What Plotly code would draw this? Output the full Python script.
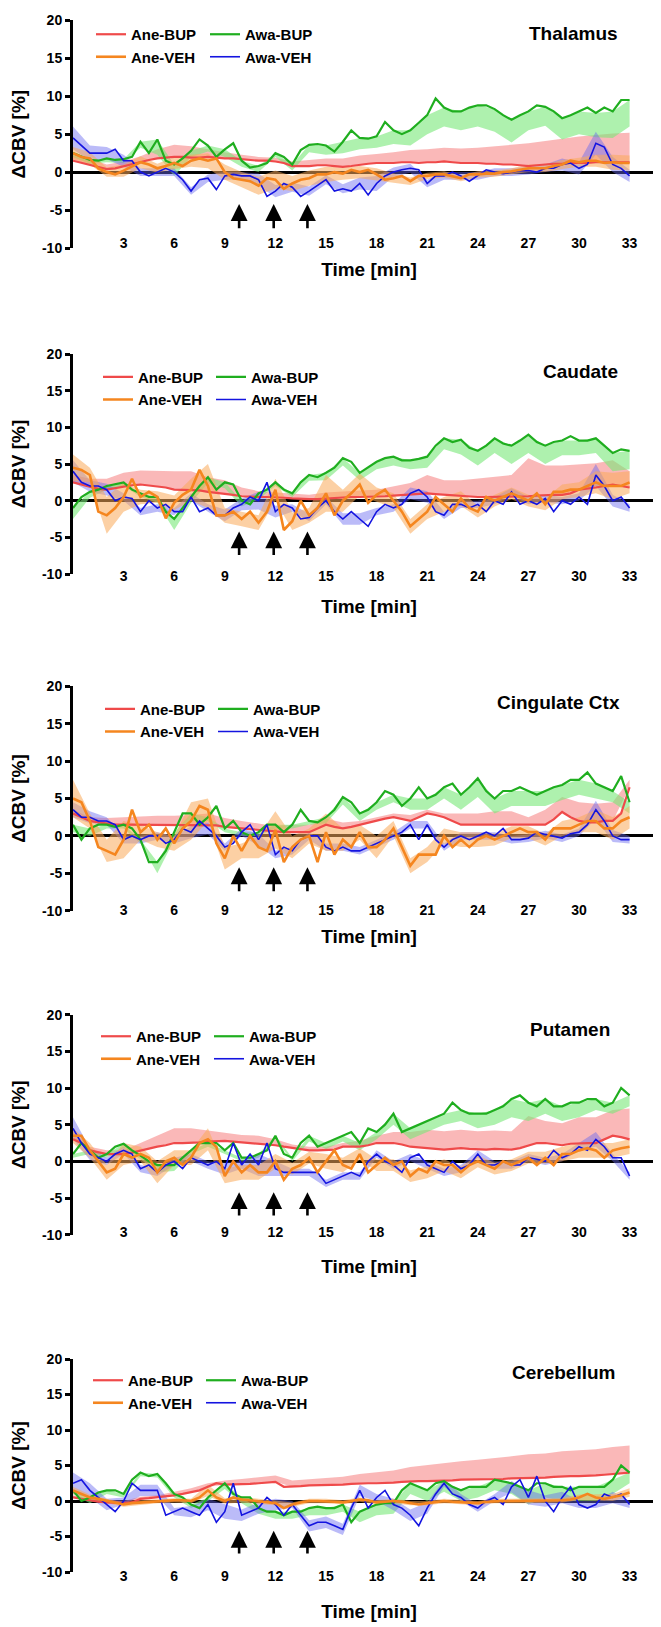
import plotly.graph_objects as go

W, H = 661, 1627

# ---------------- data ----------------
TIME_STEP = 0.5          # min, spacing of the mean traces
ERR_STEP = 1.0           # min, spacing of the error values
X_TICKS = [3, 6, 9, 12, 15, 18, 21, 24, 27, 30, 33]
Y_TICKS = [-10, -5, 0, 5, 10, 15, 20]
REGIONS = ["Thalamus", "Caudate", "Cingulate Ctx", "Putamen", "Cerebellum"]
GROUPS = ["Ane-BUP", "Ane-VEH", "Awa-BUP", "Awa-VEH"]
ARROW_TIMES = [9.85, 11.9, 13.9]

# ----- Thalamus -----
thal_ane_bup = [1.5, 1.2, 1.0, 0.6, 0.4, 0.5, 0.8, 1.0, 1.3, 1.6,
                1.8, 1.9, 2.0, 2.0, 1.9, 1.9, 2.0, 1.9, 1.8, 1.8,
                1.7, 1.6, 1.5, 1.5, 1.4, 1.2, 0.8, 0.8, 0.8, 0.9,
                0.9, 0.8, 0.7, 0.8, 1.0, 1.1, 1.2, 1.2, 1.2, 1.3,
                1.3, 1.2, 1.3, 1.3, 1.4, 1.3, 1.2, 1.2, 1.2, 1.1,
                1.1, 1.0, 1.0, 0.9, 0.8, 0.9, 1.0, 1.1, 1.1, 1.2,
                1.2, 1.2, 1.3, 1.3, 1.3, 1.3, 1.3]
thal_ane_bup_err = [0.8, 0.8, 0.6, 0.6, 0.8, 1.2, 1.6, 1.5, 1.0, 0.8,
                    0.6, 0.5, 0.5, 0.6, 0.8, 0.9, 1.1, 1.2, 1.2, 1.4,
                    1.6, 1.7, 1.8, 1.9, 2.0, 2.3, 2.6, 3.0, 3.1, 3.3,
                    3.5, 3.6, 3.8, 3.9]
thal_ane_veh = [2.5, 2.0, 1.8, 0.5, 0.0, -0.3, 0.2, 0.8, 1.3, 1.0,
                0.5, 0.8, 1.2, 0.8, 1.5, 1.8, 1.5, 1.8, 0.0, -0.8,
                -1.0, -1.2, -1.8, -0.8, -1.0, -2.2, -1.5, -1.0, -0.8, -0.3,
                -0.3, 0.0, -0.2, 0.3, 0.0, 0.3, -0.3, -1.0, -0.8, -0.5,
                -1.2, -0.5, -0.5, -0.3, -0.3, -0.5, -0.8, -0.3, -0.3, -0.2,
                -0.2, 0.0, 0.1, 0.3, 0.5, 0.5, 0.5, 0.8, 1.0, 1.5,
                1.3, 1.5, 1.5, 1.2, 1.3, 1.2, 1.2]
thal_ane_veh_err = [0.8, 0.8, 0.6, 0.8, 0.8, 0.6, 0.8, 0.8, 1.0, 1.0,
                    1.0, 1.2, 1.2, 1.0, 1.0, 1.0, 0.8, 0.8, 0.8, 0.6,
                    0.5, 0.4, 0.4, 0.4, 0.4, 0.4, 0.4, 0.5, 0.5, 0.6,
                    0.6, 0.8, 1.0, 1.0]
thal_awa_bup = [2.5, 2.0, 1.6, 1.5, 1.8, 1.6, 1.7, 2.0, 4.0, 2.5,
                4.3, 1.5, 1.0, 1.8, 2.8, 4.3, 3.5, 2.0, 3.0, 3.8,
                1.5, 0.6, 0.8, 1.2, 2.5, 2.0, 1.0, 2.9, 3.6, 3.7,
                3.5, 2.7, 4.0, 5.5, 4.5, 4.4, 4.7, 6.6, 5.5, 5.0,
                5.5, 6.5, 7.5, 9.7, 8.5, 8.0, 8.0, 8.5, 8.8, 8.8,
                8.3, 7.5, 6.9, 7.5, 8.0, 8.8, 8.6, 8.0, 7.1, 7.5,
                8.0, 8.5, 7.8, 8.5, 8.0, 9.5, 9.5]
thal_awa_bup_err = [0.5, 0.5, 0.5, 0.5, 0.8, 2.0, 1.5, 0.8, 0.8, 1.0,
                    0.8, 0.8, 0.5, 0.8, 1.0, 1.2, 1.5, 1.5, 1.5, 1.8,
                    2.0, 2.5, 2.5, 2.5, 2.8, 3.0, 3.0, 2.5, 2.5, 2.8,
                    3.0, 3.2, 3.5, 3.5]
thal_awa_veh = [4.5, 3.5, 2.5, 2.5, 2.5, 3.0, 1.5, 1.5, 0.0, -0.5,
                0.0, 0.5, 0.0, -1.0, -2.5, -1.0, -0.8, -2.3, -0.5, -0.3,
                -0.5, -0.5, -1.0, -3.2, -2.5, -1.5, -2.0, -3.2, -2.5, -1.8,
                -1.0, -2.5, -2.2, -2.5, -1.5, -3.0, -1.5, -0.5, 0.0, 0.3,
                0.5, 0.3, -1.5, -0.5, -0.5, 0.0, -0.5, -1.2, -0.5, 0.3,
                0.0, -0.2, 0.0, 0.2, 0.2, 0.0, 0.5, 0.5, 1.0, 1.2,
                0.5, 1.0, 3.8, 3.3, 1.0, 0.5, -0.5]
thal_awa_veh_err = [1.5, 1.0, 0.8, 0.8, 0.5, 0.5, 0.5, 0.5, 0.5, 0.5,
                    0.5, 0.8, 0.8, 0.6, 0.6, 0.6, 0.6, 0.8, 1.0, 0.6,
                    0.6, 0.5, 0.5, 0.5, 0.5, 0.5, 0.5, 0.5, 0.5, 0.8,
                    0.8, 1.5, 1.0, 0.8]

# ----- Caudate -----
caud_ane_bup = [2.5, 2.2, 1.8, 1.6, 1.5, 1.7, 2.0, 2.1, 2.2, 2.1,
                2.0, 1.8, 1.5, 1.5, 1.5, 1.4, 1.2, 1.1, 1.0, 0.8,
                0.6, 0.5, 0.5, 0.5, 0.5, 0.4, 0.3, 0.2, 0.2, 0.2,
                0.3, 0.4, 0.5, 0.5, 0.5, 0.5, 0.5, 0.6, 0.7, 0.8,
                0.9, 1.0, 1.0, 0.9, 0.8, 0.7, 0.6, 0.5, 0.5, 0.5,
                0.5, 0.5, 0.5, 0.5, 0.6, 0.7, 0.8, 0.8, 0.8, 1.0,
                1.5, 1.6, 1.8, 2.0, 2.2, 2.0, 1.8]
caud_ane_bup_err = [1.0, 1.2, 1.5, 1.8, 1.9, 2.0, 2.5, 2.5, 2.0, 1.8,
                    1.2, 0.8, 0.6, 0.6, 0.6, 0.8, 0.8, 0.9, 1.0, 1.3,
                    1.5, 2.5, 2.0, 2.2, 2.5, 2.7, 3.0, 5.2, 4.0, 4.0,
                    3.5, 3.3, 3.3, 2.2]
caud_ane_veh = [4.5, 4.2, 3.5, -1.5, -2.0, -1.0, 0.5, 3.0, 0.5, 1.2,
                0.5, -2.4, -0.3, 0.8, 1.5, 4.2, 2.0, -2.0, -2.0, -1.5,
                -2.5, -1.5, -3.0, -1.5, 1.5, -4.0, -2.8, 0.0, -2.0, -1.0,
                1.0, -2.0, 0.0, 1.0, 2.2, -0.3, 0.8, 1.5, 0.0, -1.5,
                -3.5, -2.5, -1.5, 0.5, -0.5, -1.5, 0.3, -1.0, -1.5, 0.5,
                0.0, 0.5, 1.0, 0.5, 0.0, 1.0, -0.5, 1.2, 1.2, 1.5,
                1.5, 2.0, 2.5, 2.0, 2.0, 2.0, 2.5]
caud_ane_veh_err = [1.8, 1.0, 2.5, 2.0, 1.0, 0.8, 1.0, 1.5, 3.0, 1.0,
                    1.0, 1.0, 1.5, 1.2, 1.0, 2.5, 1.5, 1.5, 1.0, 1.0,
                    1.0, 1.0, 1.0, 1.0, 0.8, 0.8, 0.8, 0.8, 0.8, 1.0,
                    1.0, 1.5, 1.8, 1.5]
caud_awa_bup = [-1.0, 0.5, 1.2, 1.5, 2.0, 2.3, 2.5, 1.5, 1.0, 0.5,
                0.5, -1.5, -2.5, -1.0, 0.5, 2.0, 3.2, 1.5, 2.5, 2.2,
                0.0, -0.5, 1.0, 1.5, 2.5, 1.5, 1.0, 2.5, 3.5, 3.2,
                3.8, 4.5, 5.8, 5.3, 3.8, 4.5, 5.3, 5.8, 6.0, 5.5,
                5.5, 5.7, 6.0, 7.5, 8.5, 8.0, 8.3, 7.2, 6.8, 7.5,
                8.5, 7.8, 7.5, 8.2, 9.0, 8.0, 7.5, 8.0, 8.2, 8.8,
                8.2, 8.2, 8.5, 7.5, 6.5, 7.0, 6.8]
caud_awa_bup_err = [1.5, 0.8, 0.5, 0.5, 0.5, 0.8, 1.5, 0.8, 0.8, 0.8,
                    0.8, 0.8, 0.5, 0.5, 0.8, 1.0, 1.0, 1.0, 1.0, 1.2,
                    1.2, 1.5, 1.5, 2.0, 2.0, 2.0, 2.5, 2.5, 2.5, 2.0,
                    2.0, 2.0, 2.5, 2.5]
caud_awa_veh = [4.0, 2.5, 2.0, 2.0, 1.5, 0.0, 0.5, 0.3, -1.5, 0.0,
                -1.0, -0.5, -1.5, -1.5, 0.5, -1.5, -1.0, -2.0, -2.0, -1.0,
                -0.5, 0.5, 0.0, 2.5, -1.5, -0.5, -1.0, -2.5, -2.3, -1.0,
                0.0, -1.5, -2.5, -1.5, -2.5, -3.5, -1.5, -0.5, -1.0, -0.5,
                1.0, 1.5, 0.5, -1.5, -2.0, -0.5, -0.5, -1.0, -0.5, -1.5,
                0.0, -0.5, 1.2, -0.5, 0.0, -0.5, 0.3, -1.5, 0.0, -0.5,
                0.5, -0.5, 3.5, 2.0, 0.0, 0.5, -1.0]
caud_awa_veh_err = [1.5, 0.8, 0.8, 0.5, 0.5, 0.5, 0.5, 0.5, 0.5, 0.8,
                    0.8, 1.2, 0.8, 0.5, 0.5, 0.5, 0.8, 0.8, 0.5, 0.5,
                    0.8, 0.8, 0.5, 0.5, 0.5, 0.5, 0.5, 0.5, 0.5, 0.5,
                    0.5, 1.5, 0.8, 0.5]

# ----- Cingulate Ctx -----
cing_ane_bup = [3.0, 2.5, 2.0, 1.8, 1.6, 1.5, 1.5, 1.5, 1.5, 1.5,
                1.5, 1.5, 1.5, 1.5, 1.5, 1.5, 1.5, 1.4, 1.2, 1.1,
                1.0, 0.9, 0.8, 0.6, 0.5, 0.5, 0.5, 0.5, 0.5, 1.0,
                1.5, 1.2, 1.0, 1.2, 1.5, 1.8, 2.0, 2.3, 2.5, 2.3,
                2.0, 2.5, 3.0, 2.8, 2.5, 2.0, 1.5, 1.5, 1.5, 1.5,
                1.5, 1.5, 1.5, 1.5, 1.5, 1.5, 1.5, 2.2, 3.2, 2.5,
                2.0, 1.8, 1.8, 2.0, 2.0, 3.0, 6.5]
cing_ane_bup_err = [0.5, 0.5, 0.8, 1.0, 1.2, 1.2, 1.2, 1.3, 1.5, 1.2,
                    1.0, 0.8, 0.8, 1.0, 1.0, 0.8, 0.8, 0.5, 0.5, 0.5,
                    0.8, 0.5, 0.5, 1.5, 1.5, 1.8, 1.8, 1.0, 2.0, 2.0,
                    2.5, 2.5, 2.5, 1.0]
cing_ane_veh = [5.0, 4.5, 2.0, -1.5, -2.0, -2.5, -0.5, 3.5, 0.5, 1.5,
                -0.5, 1.0, -1.0, 1.0, 2.0, 4.0, 3.5, -1.0, -3.0, 0.0,
                -2.0, 0.0, -1.5, -2.0, 0.8, -3.5, -1.5, -0.5, 0.0, -3.5,
                0.5, -2.5, -0.5, -1.5, 0.5, -1.5, -1.5, -0.5, 1.0, -1.5,
                -4.0, -2.5, -2.5, -2.5, 0.0, -1.5, -0.5, -1.5, -0.5, 0.0,
                -0.5, 0.0, 0.5, 1.0, 0.5, 0.5, -0.5, 1.0, 1.0, 1.0,
                1.5, 2.0, 2.0, 1.0, 1.0, 2.0, 2.5]
cing_ane_veh_err = [2.5, 1.0, 1.5, 2.5, 1.0, 1.0, 1.0, 2.5, 1.5, 1.5,
                    1.0, 1.5, 2.5, 1.5, 1.0, 2.5, 1.5, 1.0, 1.5, 1.0,
                    1.0, 1.0, 1.0, 1.0, 1.0, 0.8, 0.8, 0.8, 0.8, 1.0,
                    1.0, 1.5, 1.5, 1.5]
cing_awa_bup = [1.5, -0.5, 1.0, 1.5, 1.5, 1.2, 1.5, 1.0, -0.5, -3.5,
                -3.5, -2.0, 0.5, 3.0, 3.0, 1.5, 2.5, 4.0, 1.0, 2.0,
                0.5, 0.0, 0.5, 1.5, 1.5, 0.5, 1.5, 3.5, 2.0, 1.8,
                2.5, 3.5, 5.2, 4.5, 3.0, 3.5, 4.5, 6.0, 5.5, 4.0,
                5.0, 6.5, 5.0, 5.5, 6.5, 7.0, 5.5, 6.5, 7.7, 6.0,
                5.0, 6.0, 6.0, 6.5, 6.0, 5.5, 6.0, 6.5, 6.8, 7.5,
                7.5, 8.5, 7.0, 6.5, 6.0, 8.0, 4.5]
cing_awa_bup_err = [1.0, 1.0, 0.5, 0.5, 0.5, 1.5, 1.0, 1.0, 0.5, 0.5,
                    0.5, 0.5, 0.5, 0.5, 0.5, 0.8, 1.0, 1.0, 1.0, 1.0,
                    1.5, 1.5, 1.5, 2.0, 2.5, 2.0, 2.0, 2.0, 2.0, 2.0,
                    2.0, 2.0, 1.5, 1.5]
cing_awa_veh = [3.5, 2.5, 2.5, 2.0, 2.0, 1.5, -0.5, 0.0, -0.5, 0.0,
                0.0, -1.0, -0.5, 1.0, 0.5, 2.0, 1.0, 0.0, -1.5, -1.0,
                0.5, 1.5, -0.5, 1.5, -2.5, -1.5, -2.0, -0.5, 0.0, 0.0,
                -1.5, -2.0, -1.5, -2.0, -2.0, -1.5, -1.0, -0.5, 0.0, 0.5,
                1.5, -0.5, 1.5, -0.5, -1.5, -0.5, 0.0, -0.5, 0.0, 0.5,
                0.0, 1.0, -0.5, -0.5, -0.3, 0.5, 0.2, 0.0, -0.3, 0.3,
                0.5, 1.5, 3.5, 2.0, 0.0, -0.5, -0.5]
cing_awa_veh_err = [1.0, 0.8, 0.5, 0.5, 0.5, 0.5, 0.5, 0.8, 0.8, 0.5,
                    0.5, 0.8, 0.5, 0.5, 0.5, 0.5, 0.5, 0.5, 0.5, 0.5,
                    0.5, 0.5, 0.5, 0.5, 0.5, 0.5, 0.5, 0.5, 0.5, 0.5,
                    0.5, 1.2, 0.8, 0.5]

# ----- Putamen -----
put_ane_bup = [3.0, 2.5, 1.5, 1.2, 1.0, 1.0, 1.0, 1.2, 1.5, 1.8,
               2.0, 2.2, 2.5, 2.5, 2.5, 2.6, 2.7, 2.8, 2.8, 2.7,
               2.6, 2.5, 2.5, 2.4, 2.2, 2.0, 1.8, 1.6, 1.5, 1.5,
               1.5, 1.6, 2.0, 2.0, 2.0, 2.2, 2.5, 2.5, 2.5, 2.3,
               2.0, 1.9, 1.8, 1.7, 1.6, 1.7, 1.8, 1.7, 1.6, 1.6,
               1.7, 1.7, 1.6, 1.8, 2.2, 2.5, 2.5, 2.3, 2.2, 2.4,
               2.5, 2.5, 2.5, 3.0, 3.5, 3.3, 3.0]
put_ane_bup_err = [1.0, 0.5, 0.5, 0.5, 1.0, 1.5, 2.0, 2.0, 1.5, 1.2,
                   1.0, 1.0, 0.8, 0.5, 0.5, 0.5, 0.5, 0.8, 1.0, 1.5,
                   2.0, 2.5, 2.5, 2.5, 2.5, 2.5, 2.5, 4.0, 3.0, 3.0,
                   3.5, 3.5, 3.5, 4.2]
put_ane_veh = [3.5, 3.5, 1.5, 0.0, -1.5, -1.0, 1.0, 0.5, 1.0, 0.5,
               -1.5, 0.0, 0.5, -0.5, 0.5, 2.5, 3.0, 2.0, -2.0, 0.0,
               -1.5, -0.5, -1.5, -1.5, 0.0, -2.5, -1.0, -0.5, 0.5, -1.5,
               0.0, 1.5, -0.5, -1.0, 1.0, -1.5, -0.5, 0.5, -0.5, 0.0,
               -2.0, -1.0, -1.5, 0.0, -0.5, -0.5, -1.5, -0.5, 0.0, -0.5,
               -1.0, 0.0, -0.5, 0.0, 0.5, -0.5, 0.5, -0.5, 1.0, 1.0,
               1.5, 1.8, 1.5, 0.5, 1.5, 1.8, 2.0]
put_ane_veh_err = [1.0, 1.0, 1.0, 1.5, 1.0, 1.5, 1.0, 1.0, 1.5, 1.0,
                   1.0, 1.0, 1.0, 0.8, 0.8, 1.0, 1.0, 0.8, 0.8, 0.8,
                   0.8, 0.8, 0.8, 0.8, 0.8, 0.8, 0.8, 0.8, 0.8, 1.0,
                   1.0, 1.0, 1.0, 1.0]
put_awa_bup = [1.0, 2.5, 1.5, 0.5, 1.0, 2.0, 2.4, 1.5, 0.8, 0.0,
               -0.5, -0.5, -0.5, 0.5, 1.5, 2.5, 2.5, 2.5, 1.5, 2.5,
               0.5, 0.5, 1.0, 1.5, 3.5, 1.0, 0.5, 2.5, 3.5, 2.0,
               2.5, 3.0, 3.5, 4.0, 2.5, 4.5, 4.0, 5.0, 6.5, 4.0,
               4.5, 5.0, 5.5, 6.0, 6.5, 8.0, 7.0, 6.5, 6.5, 6.5,
               7.0, 7.5, 8.5, 9.0, 8.0, 7.5, 8.5, 7.5, 7.5, 8.0,
               8.0, 8.5, 8.5, 7.5, 8.0, 10.0, 9.0]
put_awa_bup_err = [0.5, 0.5, 0.5, 0.5, 0.5, 1.0, 0.8, 0.5, 0.5, 0.5,
                   0.5, 0.5, 0.5, 0.5, 0.8, 0.8, 0.8, 1.0, 1.0, 1.5,
                   1.5, 1.5, 1.5, 1.5, 2.0, 2.0, 2.5, 2.5, 2.0, 2.0,
                   2.0, 1.5, 1.5, 1.5]
put_awa_veh = [4.5, 2.5, 1.0, 0.5, 0.0, 1.0, 1.5, 1.0, -1.0, -0.5,
               -1.5, -0.5, 0.0, -1.0, 0.5, 0.0, -0.5, 0.0, -1.0, 2.5,
               -0.5, 1.0, -0.5, 2.5, -1.0, -1.5, -1.5, -1.5, -1.5, -1.5,
               -3.0, -2.5, -2.0, -1.5, -2.0, 0.0, 1.0, 0.0, -0.5, -1.5,
               0.5, 1.0, -0.5, -1.0, -1.5, 0.0, -1.0, -0.5, 1.0, -0.5,
               -0.5, 0.0, -0.5, -0.5, 0.5, 0.3, 0.0, 1.5, 0.5, 1.0,
               2.0, 1.5, 3.0, 2.0, 0.5, 0.5, -2.0]
put_awa_veh_err = [1.5, 0.8, 0.5, 0.5, 0.5, 0.5, 0.5, 0.5, 0.5, 0.8,
                   0.5, 1.5, 1.0, 0.5, 0.5, 0.5, 0.5, 0.5, 0.5, 0.5,
                   0.5, 0.5, 0.5, 0.5, 0.5, 0.5, 0.5, 0.5, 0.5, 0.5,
                   0.5, 1.0, 0.5, 0.5]

# ----- Cerebellum -----
cer_ane_bup = [0.5, 0.3, 0.0, -0.1, -0.2, -0.3, -0.3, -0.2, 0.3, 0.4,
               0.5, 0.6, 0.8, 1.0, 1.2, 1.5, 2.0, 2.5, 2.3, 2.3,
               2.3, 2.4, 2.5, 2.6, 2.7, 2.0, 2.0, 2.1, 2.2, 2.2,
               2.2, 2.2, 2.3, 2.4, 2.5, 2.5, 2.5, 2.5, 2.6, 2.7,
               2.8, 2.8, 2.8, 2.8, 2.8, 2.9, 3.0, 3.0, 3.0, 3.0,
               3.0, 3.1, 3.2, 3.2, 3.3, 3.3, 3.3, 3.4, 3.5, 3.5,
               3.5, 3.5, 3.6, 3.7, 3.8, 3.9, 4.0]
cer_ane_bup_err = [0.3, 0.3, 0.3, 0.3, 0.3, 0.3, 0.5, 0.6, 0.5, 0.6,
                   0.8, 0.8, 0.9, 0.9, 0.9, 1.0, 1.1, 1.3, 1.5, 1.7,
                   2.0, 2.3, 2.5, 2.6, 2.8, 3.0, 3.1, 3.3, 3.4, 3.5,
                   3.6, 3.7, 3.8, 3.8]
cer_ane_veh = [1.5, 1.0, 0.5, 0.3, 0.0, -0.3, -0.5, -0.3, -0.2, -0.1,
               0.0, 0.1, 0.1, 0.1, 0.0, 0.5, 1.5, 0.5, 0.0, 0.5,
               0.2, 0.1, 0.0, -0.1, -0.3, -1.0, -0.5, -0.2, 0.0, 0.0,
               0.0, -0.1, -0.2, 0.0, 0.2, 0.1, -0.2, -0.1, 0.0, -0.1,
               -0.3, -0.5, -0.3, -0.2, 0.0, -0.1, -0.2, -0.3, -0.3, -0.1,
               0.0, 0.0, 0.0, 0.0, 0.0, 0.0, 0.0, 0.0, 0.1, 0.2,
               0.5, 1.0, 0.5, 0.3, 0.5, 0.8, 1.2]
cer_ane_veh_err = [0.5, 0.4, 0.3, 0.3, 0.3, 0.3, 0.3, 0.3, 0.8, 0.4,
                   0.4, 0.3, 0.3, 0.3, 0.3, 0.3, 0.3, 0.3, 0.3, 0.3,
                   0.3, 0.3, 0.3, 0.3, 0.3, 0.3, 0.3, 0.3, 0.3, 0.3,
                   0.4, 0.5, 0.5, 0.6]
cer_awa_bup = [1.5, 0.0, 0.5, 1.2, 1.5, 1.5, 1.0, 3.0, 4.0, 3.5,
               3.8, 2.5, 1.0, 0.5, -0.5, -1.0, 0.5, 1.5, 2.5, 1.0,
               0.5, 0.5, -1.0, -1.5, -1.5, -2.0, -1.5, -1.5, -1.0, -0.8,
               -1.0, -1.0, -0.5, -3.0, -1.5, -1.0, -0.5, -0.3, -0.3, 1.5,
               2.5, 2.0, 1.5, 2.5, 2.8, 2.0, 1.5, 2.0, 2.0, 2.0,
               3.0, 2.8, 2.5, 2.0, 1.5, 2.5, 2.5, 2.0, 2.0, 1.5,
               2.0, 2.0, 2.0, 2.0, 3.0, 5.0, 4.0]
cer_awa_bup_err = [0.5, 0.8, 0.5, 0.5, 0.5, 0.5, 0.5, 0.5, 0.5, 0.8,
                   0.8, 0.8, 1.0, 1.0, 1.0, 1.0, 1.0, 1.5, 1.5, 1.5,
                   1.5, 1.5, 1.5, 1.5, 1.5, 1.5, 1.5, 2.0, 2.0, 2.0,
                   2.0, 2.0, 2.0, 1.5]
cer_awa_veh = [2.5, 3.0, 1.5, 0.5, -0.5, -1.5, 0.0, 2.5, 1.5, 1.5,
               1.5, -2.0, -1.5, -1.0, -1.5, -2.0, -0.5, -3.0, -1.5, 2.5,
               -2.0, -1.5, -1.0, 0.5, -0.5, -2.0, -0.5, -2.0, -3.5, -3.0,
               -3.0, -3.5, -4.0, -1.0, 1.5, -1.0, 0.5, 1.5, -0.5, -1.0,
               -2.0, -3.5, -1.0, 1.0, 2.5, 1.0, 0.5, -0.5, -1.0, 0.0,
               0.5, -0.5, 2.0, 3.0, 0.5, 3.5, 0.0, -1.5, 0.5, 2.0,
               -0.5, -1.0, -0.5, 1.0, 0.5, 1.0, -0.5]
cer_awa_veh_err = [1.5, 1.0, 0.8, 0.5, 0.8, 0.8, 0.5, 0.8, 0.8, 1.0,
                   0.8, 0.8, 0.8, 0.5, 0.8, 0.8, 0.8, 0.8, 0.5, 0.8,
                   0.8, 0.8, 0.5, 0.5, 0.5, 0.5, 0.8, 1.0, 0.8, 0.8,
                   0.5, 0.5, 0.8, 0.5]

DATA = {
    "Thalamus": {"Ane-BUP": (thal_ane_bup, thal_ane_bup_err), "Ane-VEH": (thal_ane_veh, thal_ane_veh_err),
                 "Awa-BUP": (thal_awa_bup, thal_awa_bup_err), "Awa-VEH": (thal_awa_veh, thal_awa_veh_err)},
    "Caudate": {"Ane-BUP": (caud_ane_bup, caud_ane_bup_err), "Ane-VEH": (caud_ane_veh, caud_ane_veh_err),
                "Awa-BUP": (caud_awa_bup, caud_awa_bup_err), "Awa-VEH": (caud_awa_veh, caud_awa_veh_err)},
    "Cingulate Ctx": {"Ane-BUP": (cing_ane_bup, cing_ane_bup_err), "Ane-VEH": (cing_ane_veh, cing_ane_veh_err),
                      "Awa-BUP": (cing_awa_bup, cing_awa_bup_err), "Awa-VEH": (cing_awa_veh, cing_awa_veh_err)},
    "Putamen": {"Ane-BUP": (put_ane_bup, put_ane_bup_err), "Ane-VEH": (put_ane_veh, put_ane_veh_err),
                "Awa-BUP": (put_awa_bup, put_awa_bup_err), "Awa-VEH": (put_awa_veh, put_awa_veh_err)},
    "Cerebellum": {"Ane-BUP": (cer_ane_bup, cer_ane_bup_err), "Ane-VEH": (cer_ane_veh, cer_ane_veh_err),
                   "Awa-BUP": (cer_awa_bup, cer_awa_bup_err), "Awa-VEH": (cer_awa_veh, cer_awa_veh_err)},
}

for reg, d in DATA.items():
    for g, (m, e) in d.items():
        if len(m) != 67 or len(e) != 34:
            raise ValueError(f"{reg} {g}: {len(m)} {len(e)}")

# ---------------- styles ----------------
FONT = "Arial, 'Liberation Sans', Helvetica, sans-serif"
STYLE = {
    "Ane-BUP": dict(color="#EF4A4A", band="rgba(246,125,125,0.55)", width=2.2, side="up"),
    "Ane-VEH": dict(color="#F5861F", band="rgba(250,170,90,0.55)", width=2.6, side="both"),
    "Awa-BUP": dict(color="#1FAE1F", band="rgba(120,232,120,0.6)", width=2.2, side="down"),
    "Awa-VEH": dict(color="#1414E0", band="rgba(105,105,240,0.45)", width=1.6, side="both"),
}
BAND_ORDER = ["Ane-BUP", "Awa-BUP", "Awa-VEH", "Ane-VEH"]
LINE_ORDER = ["Ane-BUP", "Awa-BUP", "Awa-VEH", "Ane-VEH"]

# panel geometry (px)
PANEL_TOP = [12.3, 346, 678.3, 1006.7, 1351]
PANEL_BOT = [240, 566, 902.7, 1226.7, 1564]
TICK_Y = [240, 573, 907, 1229, 1573]
TIME_STANDOFF = [12, 16, 12, 20, 21]
X_LEFT, X_RIGHT = 65, 657
X_MAX = 35.1
LEG_ROW1 = [18, 360.7, 692.7, 1020, 1364]
LEG_ANE_TEXT = [130, 137, 139, 135, 127]
LEG_AWA_TEXT = [244, 250, 252, 248, 240]
TITLE_RIGHT = [612, 612, 614, 604, 609]
TITLE_Y = [25, 364, 694, 1022, 1364]


def py(px):
    return 1 - px / H


def px_x(px):
    return px / W


fig = go.Figure()
layout = dict(width=W, height=H, margin=dict(l=0, r=0, t=0, b=0),
              paper_bgcolor="white", plot_bgcolor="white", template="none",
              showlegend=True, annotations=[])

for i, reg in enumerate(REGIONS):
    k = i + 1
    xa = "x" if k == 1 else f"x{k}"
    ya = "y" if k == 1 else f"y{k}"
    leg_a = "legend" if i == 0 else f"legend{2 * i + 1}"
    leg_b = f"legend{2 * i + 2}"
    d = DATA[reg]

    # error bands
    for g in BAND_ORDER:
        m, e = d[g]
        st = STYLE[g]
        bx = [j * ERR_STEP for j in range(len(e))]
        step = int(round(ERR_STEP / TIME_STEP))
        mb = m[::step]
        if st["side"] == "up":
            up = [a + b for a, b in zip(mb, e)]
            lo = list(mb)
        elif st["side"] == "down":
            up = list(mb)
            lo = [a - b for a, b in zip(mb, e)]
        else:
            up = [a + b for a, b in zip(mb, e)]
            lo = [a - b for a, b in zip(mb, e)]
        fig.add_trace(go.Scatter(x=bx + bx[::-1], y=up + lo[::-1], fill="toself",
                                 fillcolor=st["band"], line=dict(width=0),
                                 mode="lines", hoverinfo="skip", showlegend=False,
                                 xaxis=xa, yaxis=ya))
    # mean lines
    for g in LINE_ORDER:
        m, e = d[g]
        st = STYLE[g]
        t = [j * TIME_STEP for j in range(len(m))]
        fig.add_trace(go.Scatter(x=t, y=m, mode="lines", name=g,
                                 line=dict(color=st["color"], width=st["width"]),
                                 legend=leg_a if g.startswith("Ane") else leg_b,
                                 xaxis=xa, yaxis=ya))

    top = PANEL_TOP[i]
    bot = PANEL_BOT[i]
    ydom = [py(bot), py(top)]
    layout["xaxis" if k == 1 else f"xaxis{k}"] = dict(
        domain=[px_x(X_LEFT), px_x(X_RIGHT)], range=[0, X_MAX],
        anchor="free", position=py(TICK_Y[i] - 15), automargin=False,
        showline=False, showgrid=False, zeroline=False, ticks="",
        tickvals=X_TICKS, ticktext=[str(v) for v in X_TICKS],
        tickfont=dict(family=FONT, size=14, color="black", weight="bold"),
        title=dict(text="Time [min]", standoff=TIME_STANDOFF[i],
                   font=dict(family=FONT, size=19, color="black", weight="bold")),
    )
    layout["yaxis" if k == 1 else f"yaxis{k}"] = dict(
        domain=ydom, range=[-10, 20], anchor=xa, automargin=False,
        showline=True, linewidth=3, linecolor="black", mirror=False,
        ticks="outside", ticklen=5, tickwidth=2.5, tickcolor="black",
        tickvals=Y_TICKS, ticktext=[str(v) for v in Y_TICKS],
        tickfont=dict(family=FONT, size=14, color="black", weight="bold"),
        showgrid=False, zeroline=True, zerolinecolor="black", zerolinewidth=3,
        title=dict(text="ΔCBV [%]", standoff=14,
                   font=dict(family=FONT, size=19, color="black", weight="bold")),
    )
    for lname, tx in ((leg_a, LEG_ANE_TEXT[i]), (leg_b, LEG_AWA_TEXT[i])):
        layout[lname] = dict(
            x=px_x(tx - 47), xanchor="left", y=py(LEG_ROW1[i] - 8), yanchor="top",
            bgcolor="rgba(0,0,0,0)", borderwidth=0, tracegroupgap=0,
            font=dict(family=FONT, size=15, color="black", weight="bold"),
            orientation="v", traceorder="normal",
        )
    layout["annotations"].append(dict(
        text=reg, xref="paper", yref="paper", x=px_x(TITLE_RIGHT[i]), y=py(TITLE_Y[i]),
        xanchor="right", yanchor="middle", showarrow=False,
        font=dict(family=FONT, size=19, color="black", weight="bold")))
    for at in ARROW_TIMES:
        layout["annotations"].append(dict(
            text="", x=at, y=-4.2, ax=at, ay=-7.6, xref=xa, yref=ya, axref=xa, ayref=ya,
            showarrow=True, arrowhead=2, arrowsize=1.3, arrowwidth=2.6, arrowcolor="black",
            standoff=0, startstandoff=0))

fig.update_layout(**layout)
fig.write_html("out.html")
